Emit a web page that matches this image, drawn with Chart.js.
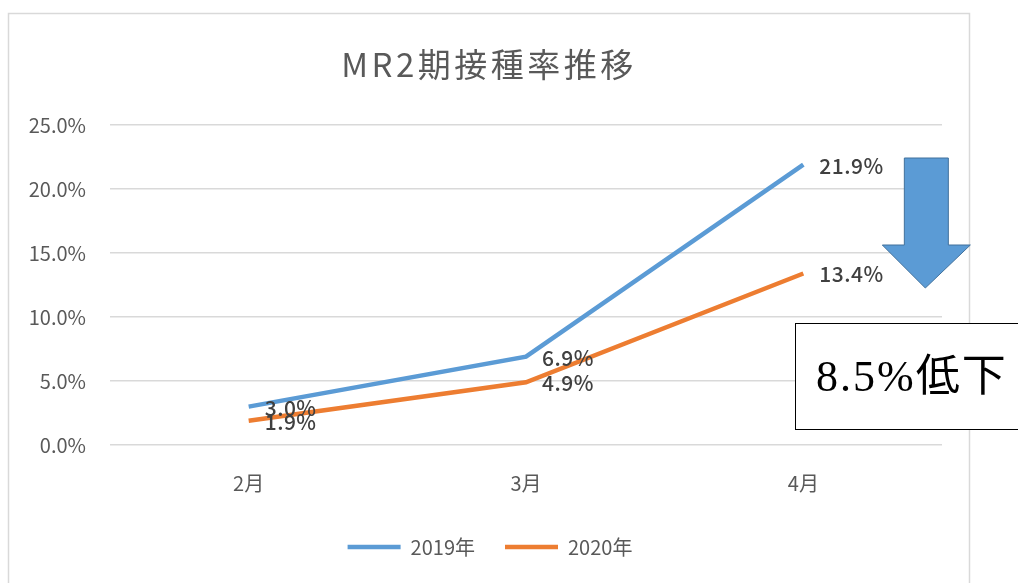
<!DOCTYPE html>
<html>
<head>
<meta charset="utf-8">
<script src="https://cdn.jsdelivr.net/npm/chart.js@4"></script>
<style>
  html, body { margin: 0; padding: 0; background: #fff; }
  #wrap { width: 1018px; height: 583px; position: relative; }
</style>
</head>
<body>
<div id="wrap"><canvas id="myChart" width="1018" height="583"></canvas></div>
<script>
// chart values
const months = ['2月', '3月', '4月'];
const rate2019 = [3.0, 6.9, 21.9];
const rate2020 = [1.9, 4.9, 13.4];
const seriesNames = ['2019年', '2020年'];
const titleText = 'MR2期接種率推移';
const noteText = '8.5%低下';

const BLUE = '#5B9BD5';
const ORANGE = '#ED7D31';
const FONT = '"Noto Sans CJK JP", "Noto Sans", sans-serif';

// frame, title, value labels, arrow and note box
const extras = {
  id: 'extras',
  beforeDraw(chart) {
    const ctx = chart.ctx;
    ctx.save();
    ctx.strokeStyle = '#d9d9d9';
    ctx.lineWidth = 1.5;
    ctx.strokeRect(8.5, 13.5, 961, 600);
    // title, a bit spaced like the office chart
    ctx.fillStyle = '#595959';
    ctx.font = '33px ' + FONT;
    ctx.letterSpacing = '3.5px';
    ctx.textAlign = 'center';
    ctx.textBaseline = 'middle';
    ctx.fillText(titleText, 489, 64);
    ctx.restore();
  },
  afterDatasetsDraw(chart) {
    const ctx = chart.ctx;
    ctx.save();
    ctx.font = '500 21px ' + FONT;
    ctx.fillStyle = '#404040';
    ctx.letterSpacing = '0.5px';
    ctx.textAlign = 'left';
    ctx.textBaseline = 'middle';
    chart.data.datasets.forEach((ds, i) => {
      chart.getDatasetMeta(i).data.forEach((pt, j) => {
        ctx.fillText(ds.data[j].toFixed(1) + '%', pt.x + 16, pt.y + 1);
      });
    });
    ctx.restore();
  },
  afterDraw(chart) {
    const ctx = chart.ctx;
    const xs = chart.scales.x;
    const x0 = xs.getPixelForValue(2) + 101;
    ctx.save();
    // arrow
    ctx.beginPath();
    ctx.moveTo(x0, 158);
    ctx.lineTo(x0 + 44, 158);
    ctx.lineTo(x0 + 44, 245);
    ctx.lineTo(x0 + 66, 245);
    ctx.lineTo(x0 + 21, 288);
    ctx.lineTo(x0 - 22, 245);
    ctx.lineTo(x0, 245);
    ctx.closePath();
    ctx.fillStyle = BLUE;
    ctx.fill();
    ctx.strokeStyle = '#41719C';
    ctx.lineWidth = 1;
    ctx.stroke();
    // note box
    ctx.fillStyle = '#fff';
    ctx.fillRect(795, 323, 240, 106);
    ctx.strokeStyle = '#000';
    ctx.strokeRect(795.5, 323.5, 240, 106);
    ctx.fillStyle = '#000';
    ctx.font = '44px "Liberation Serif", "Noto Sans CJK JP", serif';
    ctx.letterSpacing = '2px';
    ctx.textBaseline = 'alphabetic';
    ctx.fillText(noteText, 816, 391);
    ctx.restore();
  }
};

new Chart(document.getElementById('myChart').getContext('2d'), {
  type: 'line',
  data: {
    labels: months,
    datasets: [{
      label: seriesNames[0],
      data: rate2019,
      borderColor: BLUE,
      backgroundColor: BLUE,
      borderWidth: 4.5,
      pointRadius: 0,
      tension: 0,
      fill: false
    }, {
      label: seriesNames[1],
      data: rate2020,
      borderColor: ORANGE,
      backgroundColor: ORANGE,
      borderWidth: 4.5,
      pointRadius: 0,
      tension: 0,
      fill: false
    }]
  },
  options: {
    responsive: false,
    animation: false,
    layout: { padding: { left: 0, right: 38, top: 125, bottom: 16 } },
    scales: {
      x: {
        offset: true,
        afterFit(scale) { scale.height = 62; },
        grid: { display: false, drawTicks: false },
        border: { display: false },
        ticks: { color: '#595959', font: { family: FONT, size: 20 }, padding: 26 }
      },
      y: {
        min: 0,
        max: 25,
        afterFit(scale) { scale.width = 110; },
        grid: { color: '#d9d9d9', lineWidth: 1.5, drawTicks: false },
        border: { display: false },
        ticks: {
          stepSize: 5,
          color: '#595959',
          font: { family: FONT, size: 20 },
          padding: 24,
          callback: (v) => v.toFixed(1) + '%'
        }
      },
      // empty spacer on the right so the legend centres on the frame
      spacer: {
        type: 'linear',
        position: 'right',
        afterFit(scale) { scale.width = 38; },
        grid: { display: false },
        border: { display: false },
        ticks: { display: false }
      }
    },
    plugins: {
      title: { display: false },
      legend: {
        position: 'bottom',
        labels: {
          usePointStyle: true,
          pointStyle: 'line',
          pointStyleWidth: 53,
          boxWidth: 53,
          boxHeight: 4,
          padding: 30,
          color: '#595959',
          font: { family: FONT, size: 20 }
        }
      },
      tooltip: { enabled: false }
    }
  },
  plugins: [extras]
});
</script>
</body>
</html>
